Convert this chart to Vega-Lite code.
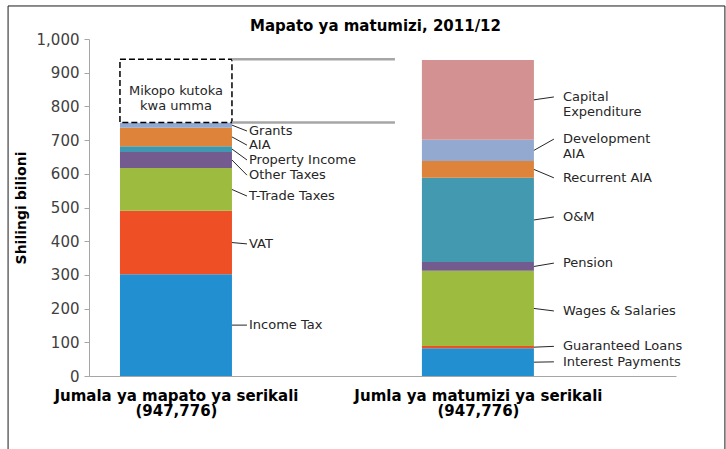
{
  "$schema": "https://vega.github.io/schema/vega-lite/v6.json",
  "width": 587,
  "height": 337,
  "autosize": "none",
  "padding": {"left": 89, "top": 39, "right": 50, "bottom": 73},
  "background": "white",
  "config": {"view": {"stroke": null}, "font": "DejaVu Sans",
    "axisX": {"title": null, "ticks": false, "grid": false, "domainColor": "#A6A6A6", "domainWidth": 1,
              "labelExpr": "datum.value == 1 ? ['Jumala ya mapato ya serikali', '(947,776)'] : ['Jumla ya matumizi ya serikali', '(947,776)']",
              "labelFontSize": 15, "labelFontWeight": "bold", "labelColor": "#000000", "labelLineHeight": 15, "labelPadding": 12,
              "labelOverlap": false, "labelFlush": false, "labelBaseline": "top", "labelLimit": 0},
    "axisY": {"values": [0, 100, 200, 300, 400, 500, 600, 700, 800, 900, 1000], "tickCount": 10,
              "titleFontSize": 14, "titleFontWeight": "bold", "titleColor": "#000000", "titlePadding": 8,
              "grid": false, "domainColor": "#A6A6A6", "tickColor": "#A6A6A6", "tickSize": 5, "labelOverlap": false, "labelFlush": false,
              "labelFontSize": 15, "labelColor": "#404040", "labelPadding": 5}
  },
  "title": {"text": "Mapato ya matumizi, 2011/12", "fontSize": 15, "fontWeight": "bold", "color": "#000000", "anchor": "middle", "frame": "group", "offset": -29, "dx": -7},
  "layer": [
    {
      "data": {"values": [{}]},
      "mark": {"type": "rect", "fill": null, "stroke": "#1a1a1a", "strokeWidth": 1},
      "encoding": {
        "x": {"datum": 0.444, "type": "quantitative", "scale": {"domain": [0.712, 2.656], "nice": false, "zero": false, "padding": 0},
              "axis": {"title": null, "values": [1, 2]}},
        "x2": {"datum": 2.818},
        "y": {"datum": 1098, "type": "quantitative", "scale": {"domain": [0, 1000], "nice": false, "padding": 0},
              "axis": {"title": "Shilingi bilioni", "tickCount": 10, "format": ",d"}},
        "y2": {"datum": -400}
      }
    },
    {
      "data": {"values": [
        {"bar": "rev", "pos": 1, "rank": 1, "item": "Income Tax", "value": 302, "labelAt": 151},
        {"bar": "rev", "pos": 1, "rank": 2, "item": "VAT", "value": 188, "labelAt": 392},
        {"bar": "rev", "pos": 1, "rank": 3, "item": "T-Trade Taxes", "value": 127, "labelAt": 534},
        {"bar": "rev", "pos": 1, "rank": 4, "item": "Other Taxes", "value": 48, "labelAt": 596},
        {"bar": "rev", "pos": 1, "rank": 5, "item": "Property Income", "value": 17, "labelAt": 641},
        {"bar": "rev", "pos": 1, "rank": 6, "item": "AIA", "value": 55, "labelAt": 685},
        {"bar": "rev", "pos": 1, "rank": 7, "item": "Grants", "value": 15, "labelAt": 727},
        {"bar": "rev", "pos": 1, "rank": 8, "item": "Mikopo kutoka\nkwa umma", "value": 188, "labelAt": null},
        {"bar": "exp", "pos": 2, "rank": 1, "item": "Interest Payments", "value": 82, "labelAt": 42},
        {"bar": "exp", "pos": 2, "rank": 2, "item": "Guaranteed Loans", "value": 7, "labelAt": 88},
        {"bar": "exp", "pos": 2, "rank": 3, "item": "Wages & Salaries", "value": 223, "labelAt": 193},
        {"bar": "exp", "pos": 2, "rank": 4, "item": "Pension", "value": 26, "labelAt": 335},
        {"bar": "exp", "pos": 2, "rank": 5, "item": "O&M", "value": 250, "labelAt": 472},
        {"bar": "exp", "pos": 2, "rank": 6, "item": "Recurrent AIA", "value": 50, "labelAt": 588},
        {"bar": "exp", "pos": 2, "rank": 7, "item": "Development\nAIA", "value": 63, "labelAt": 703},
        {"bar": "exp", "pos": 2, "rank": 8, "item": "Capital\nExpenditure", "value": 237, "labelAt": 828}
      ]},
      "transform": [
        {"stack": "value", "groupby": ["bar"], "sort": [{"field": "rank", "order": "ascending"}], "as": ["v0", "v1"]},
        {"calculate": "(datum.v0 + datum.v1) / 2", "as": "mid"}
      ],
      "layer": [
        {
          "mark": {"type": "bar", "size": 112},
          "encoding": {
            "x": {"field": "pos", "type": "quantitative", "axis": {"title": null, "values": [1, 2]}},
            "y": {"field": "v0", "type": "quantitative", "axis": {"title": "Shilingi bilioni", "tickCount": 10, "format": ",d"}},
            "y2": {"field": "v1"},
            "color": {"field": "item", "type": "nominal", "legend": null,
                      "scale": {"domain": ["Income Tax", "VAT", "T-Trade Taxes", "Other Taxes", "Property Income", "AIA", "Grants", "Mikopo kutoka\nkwa umma",
                                           "Interest Payments", "Guaranteed Loans", "Wages & Salaries", "Pension", "O&M", "Recurrent AIA", "Development\nAIA", "Capital\nExpenditure"],
                                "range": ["#2290D0", "#EE4F24", "#9DBB3E", "#745B8F", "#3E98AF", "#DD833A", "#8FA9D3", "#FFFFFF",
                                          "#2290D0", "#EE4F24", "#9DBB3E", "#745B8F", "#4299B0", "#DD833A", "#94A9CF", "#D39192"]}}
          }
        },
        {
          "transform": [{"filter": "indexof(datum.item, 'Mikopo') === 0"}],
          "mark": {"type": "bar", "size": 112, "fillOpacity": 0, "stroke": "#000000", "strokeWidth": 1.5, "strokeDash": [6, 3]},
          "encoding": {
            "x": {"field": "pos", "type": "quantitative"},
            "y": {"field": "v0", "type": "quantitative"},
            "y2": {"field": "v1"}
          }
        },
        {
          "transform": [{"filter": "indexof(datum.item, 'Mikopo') === 0"}],
          "mark": {"type": "text", "lineBreak": "\n", "align": "center", "baseline": "middle", "fontSize": 13, "color": "#262626", "lineHeight": 15},
          "encoding": {
            "x": {"field": "pos", "type": "quantitative"},
            "y": {"field": "mid", "type": "quantitative"},
            "text": {"field": "item"}
          }
        },
        {
          "transform": [{"filter": "indexof(datum.item, 'Mikopo') === 0"}],
          "mark": {"type": "rule", "stroke": "#A6A6A6", "strokeWidth": 2.5},
          "encoding": {
            "x": {"datum": 1.1854, "type": "quantitative"},
            "x2": {"datum": 1.7252},
            "y": {"field": "v0", "type": "quantitative"}
          }
        },
        {
          "transform": [{"filter": "indexof(datum.item, 'Mikopo') === 0"}],
          "mark": {"type": "rule", "stroke": "#A6A6A6", "strokeWidth": 2.5},
          "encoding": {
            "x": {"datum": 1.1854, "type": "quantitative"},
            "x2": {"datum": 1.7252},
            "y": {"field": "v1", "type": "quantitative"}
          }
        },
        {
          "transform": [{"filter": "datum.bar == 'rev' && datum.labelAt != null"}],
          "mark": {"type": "rule", "stroke": "#262626", "strokeWidth": 1},
          "encoding": {
            "x": {"datum": 1.1854, "type": "quantitative"},
            "x2": {"datum": 1.2352},
            "y": {"field": "mid", "type": "quantitative"},
            "y2": {"field": "labelAt"}
          }
        },
        {
          "transform": [{"filter": "datum.bar == 'rev' && datum.labelAt != null"}],
          "mark": {"type": "text", "lineBreak": "\n", "align": "left", "baseline": "middle", "fontSize": 13, "color": "#262626", "lineHeight": 15},
          "encoding": {
            "x": {"datum": 1.2418, "type": "quantitative"},
            "y": {"field": "labelAt", "type": "quantitative"},
            "text": {"field": "item"}
          }
        },
        {
          "transform": [{"filter": "datum.bar == 'exp'"}],
          "mark": {"type": "rule", "stroke": "#262626", "strokeWidth": 1},
          "encoding": {
            "x": {"datum": 2.1854, "type": "quantitative"},
            "x2": {"datum": 2.2517},
            "y": {"field": "mid", "type": "quantitative"},
            "y2": {"field": "labelAt"}
          }
        },
        {
          "transform": [{"filter": "datum.bar == 'exp'"}],
          "mark": {"type": "text", "lineBreak": "\n", "align": "left", "baseline": "middle", "fontSize": 13, "color": "#262626", "lineHeight": 15},
          "encoding": {
            "x": {"datum": 2.2815, "type": "quantitative"},
            "y": {"field": "labelAt", "type": "quantitative"},
            "text": {"field": "item"}
          }
        }
      ]
    }
  ]
}
